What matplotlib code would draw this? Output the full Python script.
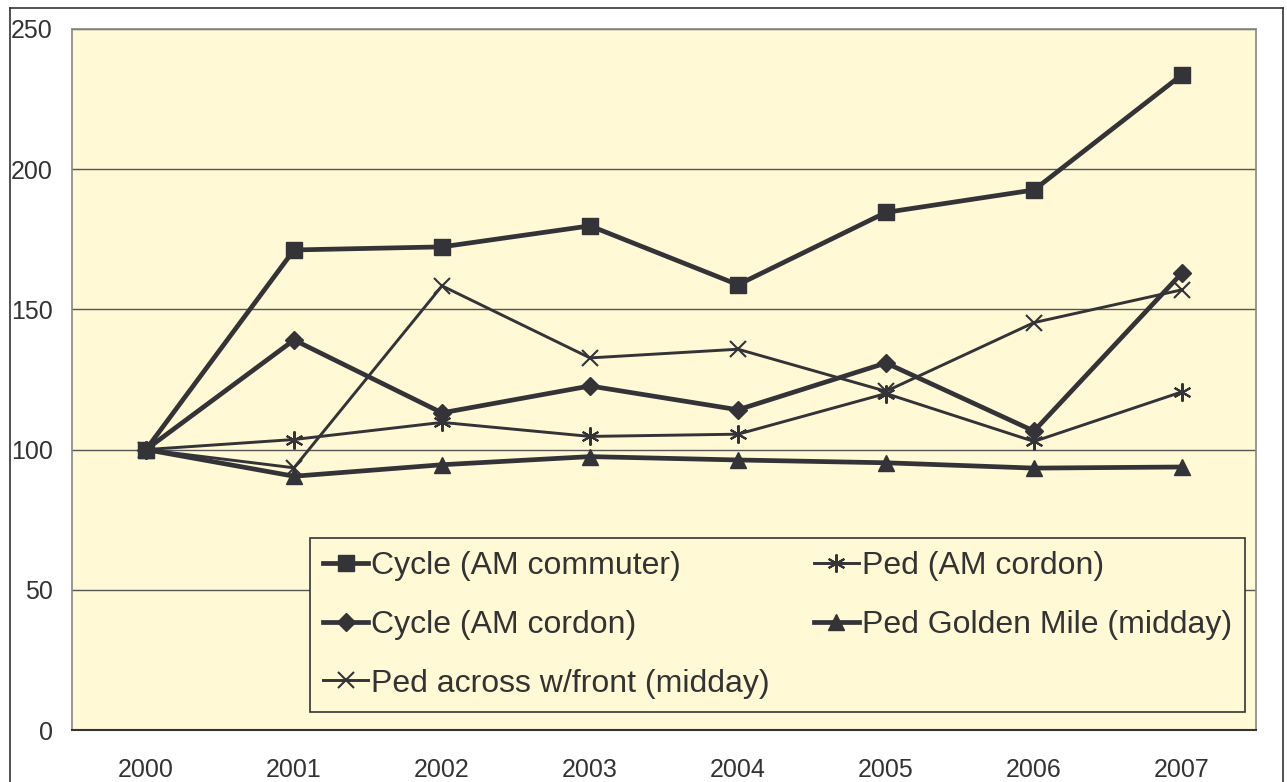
import matplotlib
matplotlib.use("Agg")
import matplotlib.pyplot as plt
from matplotlib.lines import Line2D

# values (index, 2000 = 100)
years = ["2000", "2001", "2002", "2003", "2004", "2005", "2006", "2007"]
cycle_commuter = [100, 171.2, 172.3, 179.8, 158.8, 184.6, 192.6, 233.7]
cycle_cordon = [100, 139.1, 113.1, 122.7, 114.2, 130.9, 106.6, 163.0]
ped_cordon = [100, 103.6, 109.7, 104.7, 105.5, 120.0, 102.9, 120.6]
ped_golden = [100, 90.5, 94.6, 97.5, 96.3, 95.3, 93.4, 93.8]
ped_across = [100, 93.5, 158.4, 132.7, 135.8, 120.8, 145.3, 157.0]

BG = "#FFF9D6"
INK = "#333338"
plt.rcParams["font.family"] = ["Liberation Sans", "DejaVu Sans"]

fig = plt.figure(figsize=(12.87, 7.82), dpi=100)
ax = fig.add_axes([72 / 1287, 1 - 730 / 782, 1184 / 1287, 701 / 782])
ax.set_facecolor(BG)

x = range(len(years))
thick, thin = 3.4, 2.1
h1, = ax.plot(x, cycle_commuter, color=INK, lw=thick, marker="s", ms=11,
              label="Cycle (AM commuter)", zorder=5)
h2, = ax.plot(x, cycle_cordon, color=INK, lw=thick, marker="D", ms=9,
              label="Cycle (AM cordon)", zorder=5)
h3, = ax.plot(x, ped_across, color=INK, lw=thin, marker="x", ms=11.5, mew=1.5,
              label="Ped across w/front (midday)", zorder=4)
h4, = ax.plot(x, ped_cordon, color=INK, lw=thin, marker=(6, 2, 0), ms=13, mew=1.5,
              label="Ped (AM cordon)", zorder=4)
h5, = ax.plot(x, ped_golden, color=INK, lw=thick, marker="^", ms=11.5,
              label="Ped Golden Mile (midday)", zorder=5)

ax.set_xlim(-0.5, 7.5)
ax.set_ylim(0, 250)
ax.set_yticks([0, 50, 100, 150, 200, 250])
ax.set_xticks(list(x))
ax.set_xticklabels(years)
ax.tick_params(length=0, labelsize=18, colors="#333333")
ax.tick_params(axis="y", pad=14)
ax.tick_params(axis="x", pad=20)
ax.grid(axis="y", color="#555555", lw=1.0)
ax.set_axisbelow(True)
for side in ("left", "top", "right"):
    ax.spines[side].set_color("#888888")
    ax.spines[side].set_linewidth(1.2)
ax.spines["bottom"].set_color("#333333")
ax.spines["bottom"].set_linewidth(1.5)

leg = ax.legend(handles=[h1, h2, h3, h4, h5], ncol=2, loc="lower left",
                bbox_to_anchor=(0.201, 0.0257, 0.79, 0.254), mode="expand",
                borderaxespad=0, fontsize=23, frameon=True, fancybox=False,
                handlelength=1.4, handletextpad=0.1, labelspacing=0.9,
                borderpad=0.42, labelcolor="#333333")
leg.get_frame().set_facecolor(BG)
leg.get_frame().set_edgecolor("#333333")
leg.get_frame().set_linewidth(1.2)
leg.get_frame().set_alpha(1)

# outer frame around the whole chart
for xs, ys in (([10, 10], [0, 774]), ([10, 1283], [774, 774]), ([1283, 1283], [0, 774])):
    fig.add_artist(Line2D([v / 1287 for v in xs], [v / 782 for v in ys],
                          color="#333333", lw=1.2))

fig.savefig("out.png", dpi=100, facecolor="white")
